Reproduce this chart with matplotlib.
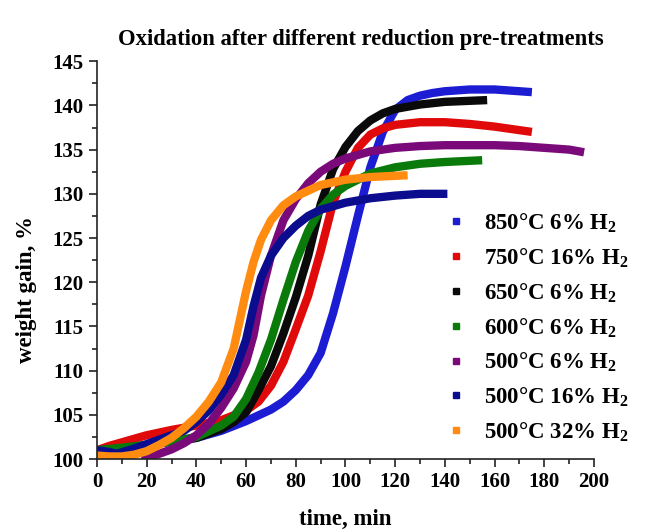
import matplotlib
matplotlib.use("Agg")
import matplotlib.pyplot as plt
from matplotlib.lines import Line2D
from matplotlib.ticker import MultipleLocator

plt.rcParams['font.family'] = ['Liberation Serif', 'DejaVu Serif']
plt.rcParams['font.weight'] = 'bold'
plt.rcParams['mathtext.fontset'] = 'custom'
plt.rcParams['mathtext.rm'] = 'Liberation Serif:bold'
plt.rcParams['mathtext.bf'] = 'Liberation Serif:bold'

# 850°C 6% H2
t_850 = [0, 5, 10, 20, 30, 40, 50, 60, 70, 75, 80, 85, 90, 95, 100, 105, 110, 115, 120, 125, 130, 135, 140,
         150, 160, 175]
w_850 = [101.0, 100.9, 101.1, 101.5, 102.0, 102.4, 103.2, 104.3, 105.6, 106.5, 107.8, 109.5, 112.0, 116.5,
         121.8, 127.5, 133.0, 137.0, 139.5, 140.6, 141.1, 141.4, 141.6, 141.8, 141.8, 141.5]
# 750°C 16% H2
t_750 = [0, 5, 10, 15, 20, 25, 30, 40, 50, 60, 65, 70, 75, 80, 85, 90, 95, 100, 105, 110, 115, 120, 130,
         140, 150, 160, 175]
w_750 = [101.0, 101.5, 101.9, 102.3, 102.7, 103.0, 103.3, 103.8, 104.4, 105.5, 106.5, 108.3, 111.0, 114.7,
         118.5, 123.5, 129.0, 132.5, 135.2, 136.7, 137.4, 137.8, 138.1, 138.1, 137.9, 137.6, 137.0]
# 650°C 6% H2
t_650 = [0, 10, 20, 30, 40, 50, 55, 60, 65, 70, 75, 80, 85, 90, 95, 100, 105, 110, 115, 120, 130, 140, 157]
w_650 = [101.0, 101.2, 101.6, 102.0, 102.4, 103.4, 104.2, 105.3, 107.8, 110.5, 114.2, 118.3, 123.0, 128.8,
         132.8, 135.3, 137.1, 138.3, 139.1, 139.6, 140.1, 140.4, 140.6]
# 600°C 6% H2
t_600 = [0, 10, 20, 30, 40, 50, 55, 60, 65, 70, 75, 80, 85, 90, 95, 100, 110, 120, 130, 140, 155]
w_600 = [101.0, 101.3, 101.6, 102.0, 102.5, 103.8, 104.8, 106.8, 109.8, 113.5, 118.0, 122.3, 125.8, 128.3,
         129.9, 130.9, 132.3, 133.0, 133.4, 133.6, 133.8]
# 500°C 6% H2
t_500a = [18, 20, 25, 30, 35, 40, 45, 50, 55, 60, 63, 66, 70, 75, 80, 85, 90, 95, 100, 110, 120, 130, 140,
          150, 160, 170, 180, 190, 196]
w_500a = [100.0, 100.2, 100.6, 101.1, 101.8, 102.7, 104.0, 105.8, 108.0, 111.0, 114.0, 118.5, 123.0, 127.0,
          129.4, 131.2, 132.5, 133.4, 134.0, 134.8, 135.2, 135.4, 135.5, 135.5, 135.5, 135.4, 135.2, 135.0,
          134.7]
# 500°C 16% H2
t_500b = [0, 5, 8, 15, 20, 25, 30, 35, 40, 45, 50, 55, 60, 63, 66, 70, 75, 80, 85, 90, 100, 110, 120, 130, 141]
w_500b = [101.0, 100.8, 100.6, 101.2, 101.7, 102.2, 102.7, 103.2, 104.2, 105.5, 107.3, 109.5, 113.5, 117.3,
          120.5, 123.0, 125.0, 126.4, 127.5, 128.2, 129.0, 129.5, 129.8, 130.0, 130.0]
# 500°C 32% H2
t_500c = [0, 5, 10, 15, 20, 25, 30, 35, 40, 45, 50, 55, 60, 63, 66, 70, 75, 80, 90, 100, 110, 125]
w_500c = [100.4, 100.3, 100.3, 100.5, 100.9, 101.6, 102.4, 103.5, 104.8, 106.5, 108.7, 112.5, 119.0, 122.3,
          124.8, 127.0, 128.7, 129.7, 131.0, 131.6, 131.9, 132.1]

labels = [r'850°C 6% H$_2$', r'750°C 16% H$_2$', r'650°C 6% H$_2$', r'600°C 6% H$_2$',
          r'500°C 6% H$_2$', r'500°C 16% H$_2$', r'500°C 32% H$_2$']
colors = ['#1c1cd2', '#e00a0a', '#0a0a0a', '#0a7a0a', '#7a0a7a', '#0c0c8e', '#ff8c10']
series = [(t_850, w_850), (t_750, w_750), (t_650, w_650), (t_600, w_600),
          (t_500a, w_500a), (t_500b, w_500b), (t_500c, w_500c)]

fig = plt.figure(figsize=(6.62, 5.32), dpi=100)
ax = fig.add_axes([0.1465, 0.137, 0.7508, 0.748])

for (t, w), c in zip(series, colors):
    ax.plot(t, w, color=c, lw=6, solid_capstyle='butt', solid_joinstyle='round')

ax.set_xlim(0, 200)
ax.set_ylim(100, 145)
ax.xaxis.set_major_locator(MultipleLocator(20))
ax.xaxis.set_minor_locator(MultipleLocator(10))
ax.yaxis.set_major_locator(MultipleLocator(5))
ax.yaxis.set_minor_locator(MultipleLocator(2.5))
ax.tick_params(which='major', direction='out', length=6, width=1.2, labelsize=15, colors='#222222',
               labelcolor='black')
ax.tick_params(which='minor', direction='out', length=3.5, width=1.2, colors='#222222')
for s in ['top', 'right']:
    ax.spines[s].set_visible(False)
for s in ['left', 'bottom']:
    ax.spines[s].set_linewidth(1.2)
    ax.spines[s].set_color('#222222')

ax.set_xlabel('time, min', fontsize=16.5, fontweight='bold')
ax.set_ylabel('weight gain, %', fontsize=16.5, fontweight='bold')
ax.xaxis.set_label_coords(0.5, -0.125)
ax.yaxis.set_label_coords(-0.12, 0.425)

fig.text(361 / 662, 1 - 40 / 532, 'Oxidation after different reduction pre-treatments',
         ha='center', va='center', fontsize=16.3, fontweight='bold')

handles = [Line2D([], [], ls='none', marker='s', markersize=5, color=c) for c in colors]
ax.legend(handles, labels, loc='upper left', bbox_to_anchor=(445 / 662, 1 - 211 / 532),
          bbox_transform=fig.transFigure, frameon=False, fontsize=16.5, handlelength=1.0,
          handletextpad=0.7, labelspacing=0.48, borderpad=0, borderaxespad=0)

fig.savefig('out.png', dpi=100, facecolor='white')
